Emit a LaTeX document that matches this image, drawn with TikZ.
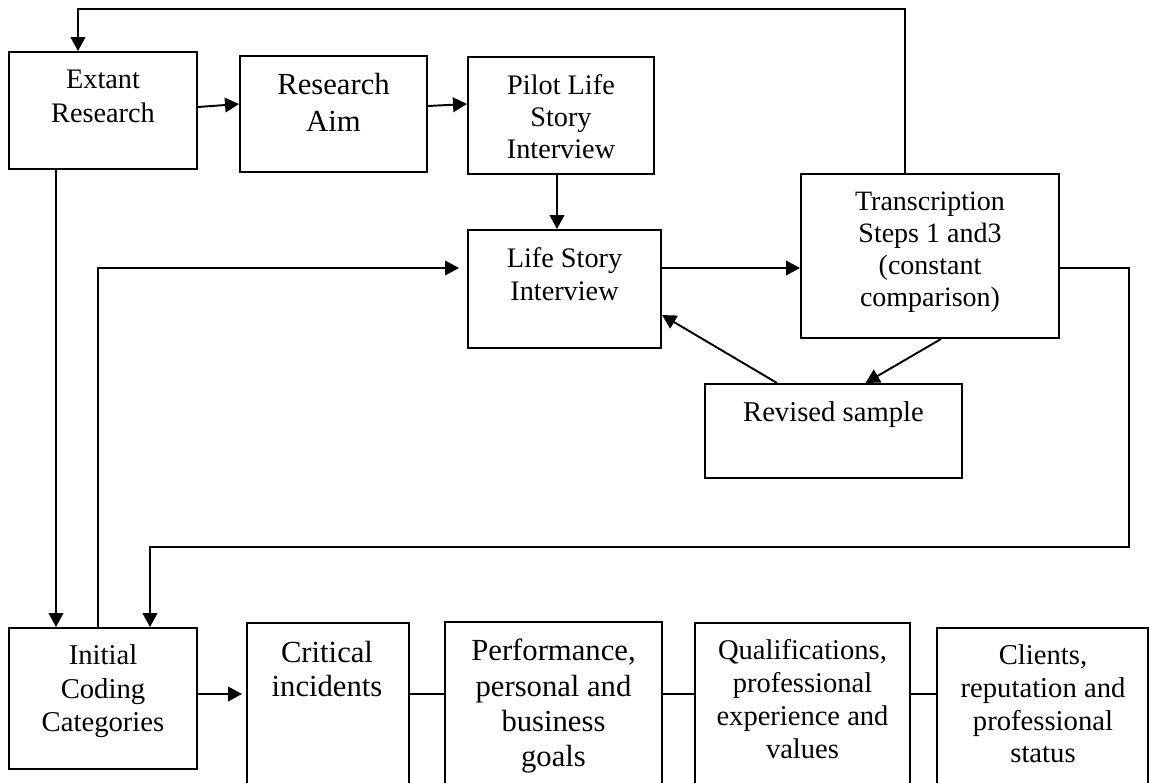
\documentclass[tikz,border=0pt]{standalone}
\usepackage{fontspec}
\setmainfont{Liberation Serif}
\usetikzlibrary{arrows.meta,calc,fit}
\begin{document}
\begin{tikzpicture}[x=0.75pt,y=-0.75pt,
  box/.style={draw, line width=1.5pt, inner sep=0pt, rectangle},
  txt/.style={inner sep=0pt, align=center, anchor=north},
  arr/.style={line width=1.45pt, -{Triangle[length=10.5pt,width=11pt]}},
  ln/.style={line width=1.45pt}]
\useasboundingbox (0,0) rectangle (1149,782);
\clip (0,0) rectangle (1149,782);
% boxes
\node[box, fit={(9,52) (197,169)}] (ext) {};
\node[box, fit={(240,56) (427,172)}] (aim) {};
\node[box, fit={(468,57) (654,174)}] (pilot) {};
\node[box, fit={(468,230) (661,348)}] (life) {};
\node[box, fit={(801,174) (1059,338)}] (trans) {};
\node[box, fit={(705,384) (962,478)}] (rev) {};
\node[box, fit={(9,628) (197,769)}] (init) {};
\node[box, fit={(247,623) (409,800)}] (crit) {};
\node[box, fit={(445,622) (662,800)}] (perf) {};
\node[box, fit={(695,623) (910,800)}] (qual) {};
\node[box, fit={(937,628) (1148,800)}] (cli) {};
% texts
\node[txt, font=\fontsize{21.2pt}{25.5pt}\selectfont] (extT) at (103,69.8) {Extant\\Research};
\node[txt, font=\fontsize{23pt}{27.75pt}\selectfont] (aimT) at (333.5,73) {Research\\Aim};
\node[txt, font=\fontsize{21.2pt}{24pt}\selectfont] (pilotT) at (561,74.8) {Pilot Life\\Story\\Interview};
\node[txt, font=\fontsize{21.2pt}{24.75pt}\selectfont] (lifeT) at (564.5,247.8) {Life Story\\Interview};
\node[txt, font=\fontsize{21pt}{24pt}\selectfont] (transT) at (930,192) {Transcription\\Steps 1 and3\\(constant\\comparison)};
\node[txt, font=\fontsize{21.5pt}{25pt}\selectfont] (revT) at (833.5,401.5) {Revised sample};
\node[txt, font=\fontsize{21.5pt}{25pt}\selectfont] (initT) at (103,644.5) {Initial\\Coding\\Categories};
\node[txt, font=\fontsize{23pt}{25.5pt}\selectfont] (critT) at (327,641) {Critical\\incidents};
\node[txt, font=\fontsize{23pt}{26.5pt}\selectfont] (perfT) at (553.5,639) {Performance,\\personal and\\business\\goals};
\node[txt, font=\fontsize{21.4pt}{24.75pt}\selectfont] (qualT) at (802.5,639.6) {Qualifications,\\professional\\experience and\\values};
\node[txt, font=\fontsize{21.5pt}{24.5pt}\selectfont] (cliT) at (1043,644.5) {Clients,\\reputation and\\professional\\status};
% helper coordinates
\coordinate (tl) at (78,9);
\coordinate (tr) at (905,9);
\coordinate (r1) at (1129,268);
\coordinate (r2) at (1129,547);
\coordinate (r3) at (150,547);
\coordinate (l1) at (98,268);
\coordinate (v56) at (56,0);
\coordinate (hb) at (0,694);
% connectors
\draw[arr] (trans.north -| tr) -- (tr) -- (tl) -- (tl |- ext.north);
\draw[arr] ($(ext.east)+(0,-3.5)$) -- ($(aim.west)+(0,-10)$);
\draw[arr] ($(aim.east)+(0,-8)$) -- ($(pilot.west)+(0,-11.5)$);
\draw[arr] ($(pilot.south)+(-4,0)$) -- ($(life.north)+(-7.5,0)$);
\draw[arr] (ext.south -| v56) -- (init.north -| v56);
\draw[arr, shorten >=6pt] (init.north -| l1) -- (l1) -- (life.west |- l1);
\draw[arr] (life.east |- l1) -- (trans.west |- l1);
\draw[arr] (trans.east |- r1) -- (r1) -- (r2) -- (r3) -- (r3 |- init.north);
\draw[arr] ($(trans.south)+(11,0)$) -- ($(rev.north)+(32,0)$);
\draw[arr] ($(rev.north)+(-56.5,0)$) -- ($(life.east)+(0,26)$);
\draw[arr, shorten >=3pt] (init.east |- hb) -- (crit.west |- hb);
\draw[ln] (crit.east |- hb) -- (perf.west |- hb);
\draw[ln] (perf.east |- hb) -- (qual.west |- hb);
\draw[ln] (qual.east |- hb) -- (cli.west |- hb);
\end{tikzpicture}
\end{document}
